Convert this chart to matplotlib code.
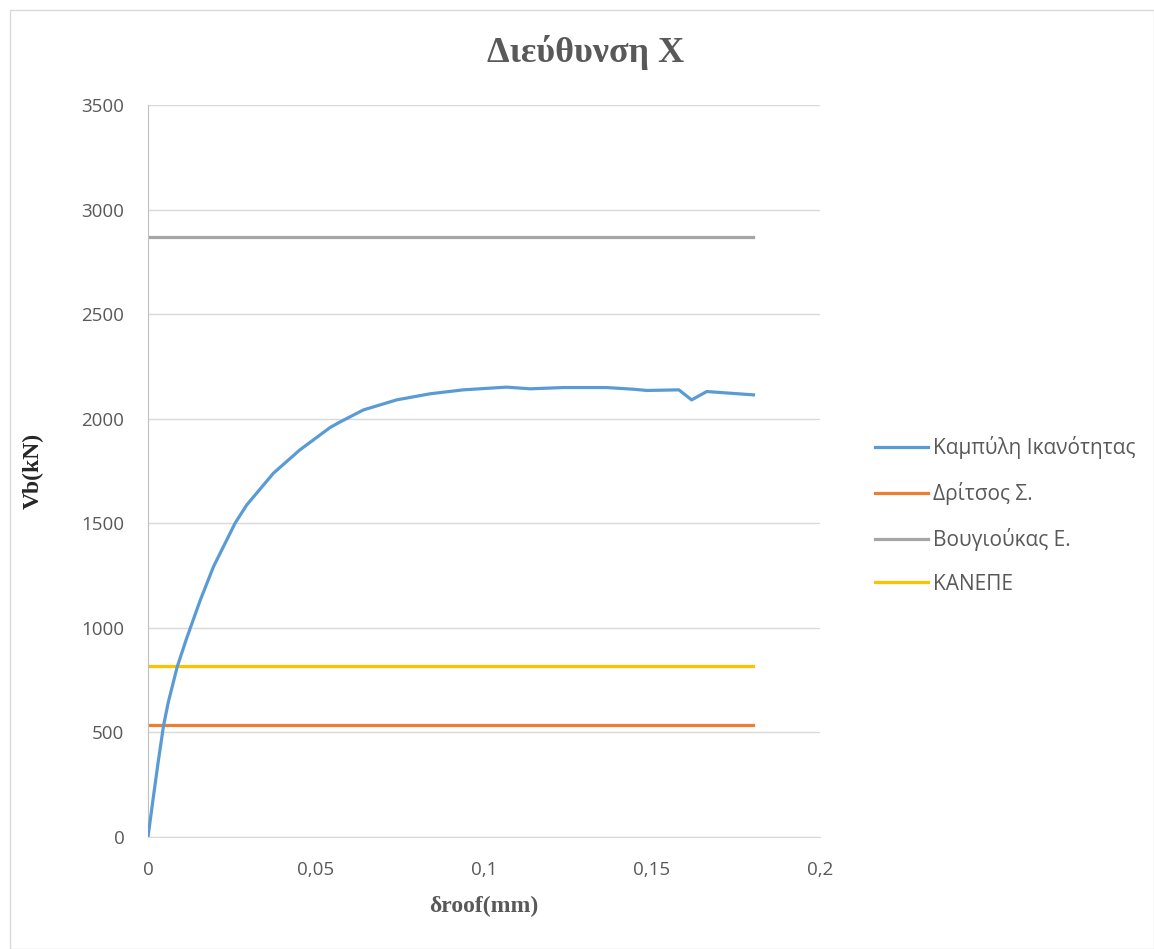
import matplotlib.pyplot as plt
from matplotlib.patches import Rectangle

# capacity curve
DROOF = [0, 0.0015, 0.003, 0.0046, 0.006, 0.0087, 0.0115, 0.0135, 0.0155, 0.0195,
         0.0259, 0.0294, 0.0373, 0.0452, 0.0542, 0.0571, 0.0641, 0.074, 0.0839, 0.0938,
         0.1067, 0.1137, 0.1236, 0.1365, 0.1445, 0.1485, 0.158, 0.1618, 0.1663, 0.1802]
VB = [0, 180, 355, 530, 642, 814, 950, 1040, 1130, 1293,
      1500, 1588, 1739, 1851, 1958, 1984, 2042, 2090, 2119, 2138,
      2151, 2143, 2149, 2149, 2141, 2135, 2138, 2090, 2130, 2114]

# horizontal reference levels
LINE_X = [0, 0.18]
DRITSOS = 536
VOUGIOUKAS = 2870
KANEPE = 818

X_TICKS = [0, 0.05, 0.1, 0.15, 0.2]
X_LABELS = ['0', '0,05', '0,1', '0,15', '0,2']
Y_TICKS = [0, 500, 1000, 1500, 2000, 2500, 3000, 3500]

TXT = '#595959'
plt.rcParams['font.family'] = ['Open Sans', 'DejaVu Sans']

W, H = 1154, 949
fig = plt.figure(figsize=(W / 100, H / 100), dpi=100)
fig.patches.append(Rectangle((10 / W, 0), 1 - 10 / W, 1 - 10 / H,
                             transform=fig.transFigure, fill=False,
                             edgecolor='#d9d9d9', linewidth=1))
ax = fig.add_axes([148 / W, 1 - 837 / H, 672 / W, 732 / H])

ax.plot(DROOF, VB, color='#5B9BD5', linewidth=2.3, label='Καμπύλη Ικανότητας', zorder=3)
ax.plot(LINE_X, [DRITSOS] * 2, color='#ED7D31', linewidth=2.3, label='Δρίτσος Σ.')
ax.plot(LINE_X, [VOUGIOUKAS] * 2, color='#A5A5A5', linewidth=2.3, label='Βουγιούκας Ε.')
ax.plot(LINE_X, [KANEPE] * 2, color='#FFC000', linewidth=2.3, label='ΚΑΝΕΠΕ')

ax.set_xlim(0, 0.2)
ax.set_ylim(0, 3500)
ax.set_xticks(X_TICKS)
ax.set_xticklabels(X_LABELS)
ax.set_yticks(Y_TICKS)
ax.tick_params(length=0, labelsize=13.5, labelcolor=TXT)
ax.tick_params(axis='y', pad=17)
ax.tick_params(axis='x', pad=17)
ax.grid(axis='y', color='#d9d9d9', linewidth=1)
ax.set_axisbelow(True)
for s in ['top', 'right']:
    ax.spines[s].set_visible(False)
ax.spines['left'].set_color('#bfbfbf')
ax.spines['bottom'].set_color('#d9d9d9')

fig.text(586 / W, 1 - 52 / H, 'Διεύθυνση Χ', family='Liberation Serif', fontsize=26,
         fontweight='bold', color=TXT, ha='center', va='center')
fig.text(484 / W, 1 - 906 / H, 'δroof(mm)', family='Liberation Serif', fontsize=17,
         fontweight='bold', color=TXT, ha='center', va='center')
fig.text(33 / W, 1 - 471 / H, 'Vb(kN)', family='Liberation Serif', fontsize=17,
         fontweight='bold', color='#262626', ha='center', va='center', rotation=90)

fig.legend(loc='upper left', bbox_to_anchor=(875 / W, 1 - 436 / H),
           frameon=False, fontsize=15, labelcolor=TXT, handlelength=2.55,
           handletextpad=0.25, labelspacing=1.1, borderpad=0, borderaxespad=0)

fig.savefig('out.png', dpi=100)
